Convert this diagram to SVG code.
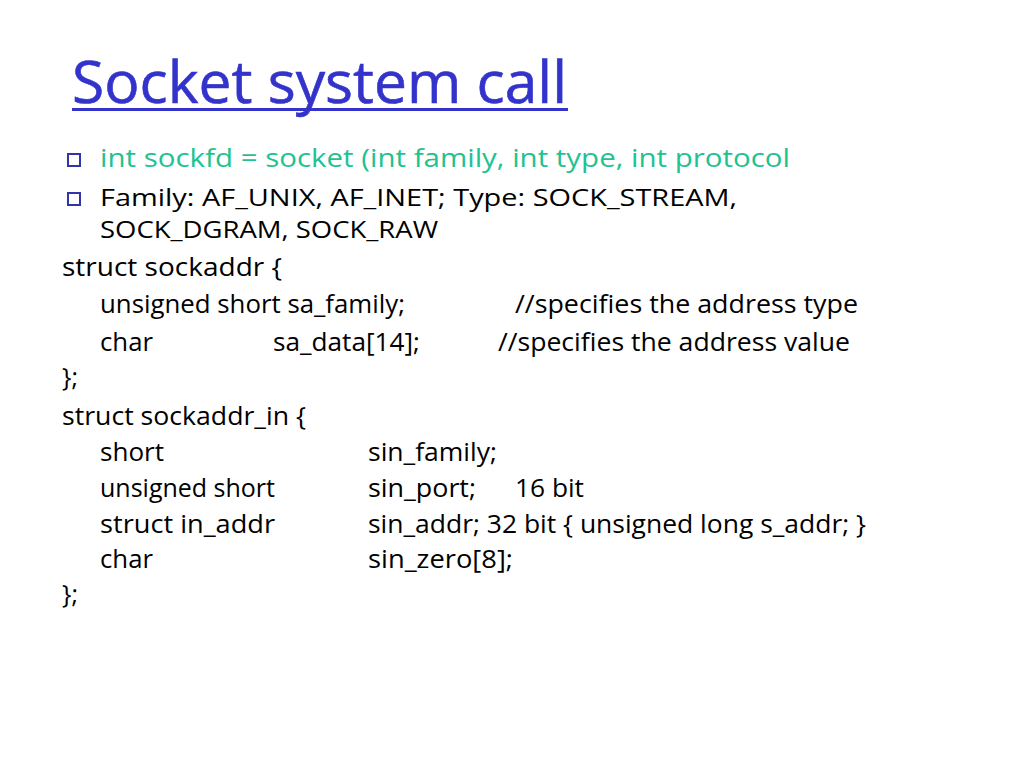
<svg xmlns="http://www.w3.org/2000/svg" width="1024" height="768" viewBox="0 0 1024 768">
<style>
text{font-family:"Open Sans","Noto Sans","DejaVu Sans",sans-serif;fill:#000}
.title{font-size:58px;fill:#3333CC}
.b{font-size:26px}
.s{font-size:24px}
.g{fill:#1FC290}
.c{font-size:25px}
.bul{fill:#fff;stroke:#3333AA;stroke-width:2}
</style>
<rect width="1024" height="768" fill="#fff"/>
<g id="title">
<text class="title" x="72" y="103" textLength="495" lengthAdjust="spacingAndGlyphs" stroke="#3333CC" stroke-width="0.6">Socket system call</text>
<rect x="72" y="108" width="496" height="3" fill="#3333CC"/>
</g>
<g id="bullets">
<rect x="69" y="155" width="12" height="12" fill="#9999BB"/>
<rect class="bul" x="68" y="154" width="12" height="12"/>
<rect x="69" y="194" width="12" height="12" fill="#9999BB"/>
<rect class="bul" x="68" y="193" width="12" height="12"/>
<text class="b g" x="100" y="167" textLength="690" lengthAdjust="spacingAndGlyphs">int sockfd = socket (int family, int type, int protocol</text>
<text class="s" x="100" y="206" textLength="637" lengthAdjust="spacingAndGlyphs">Family: AF_UNIX, AF_INET; Type: SOCK_STREAM,</text>
<text class="s" x="100" y="238" textLength="338" lengthAdjust="spacingAndGlyphs">SOCK_DGRAM, SOCK_RAW</text>
</g>
<g id="sockaddr">
<text class="c" x="62" y="276" textLength="220" lengthAdjust="spacingAndGlyphs">struct  sockaddr {</text>
<text class="c" x="100" y="313" textLength="305" lengthAdjust="spacingAndGlyphs">unsigned short sa_family;</text>
<text class="c" x="515" y="313" textLength="343" lengthAdjust="spacingAndGlyphs">//specifies the address type</text>
<text class="c" x="100" y="351" textLength="53" lengthAdjust="spacingAndGlyphs">char</text>
<text class="c" x="273" y="351" textLength="147" lengthAdjust="spacingAndGlyphs">sa_data[14];</text>
<text class="c" x="498" y="351" textLength="352" lengthAdjust="spacingAndGlyphs">//specifies the address value</text>
<text class="c" x="62" y="386">};</text>
</g>
<g id="sockaddr_in">
<text class="c" x="62" y="425" textLength="244" lengthAdjust="spacingAndGlyphs">struct sockaddr_in {</text>
<text class="c" x="100" y="461" textLength="64" lengthAdjust="spacingAndGlyphs">short</text>
<text class="c" x="368" y="461" textLength="129" lengthAdjust="spacingAndGlyphs">sin_family;</text>
<text class="c" x="100" y="497" textLength="175" lengthAdjust="spacingAndGlyphs">unsigned short</text>
<text class="c" x="368" y="497" textLength="108" lengthAdjust="spacingAndGlyphs">sin_port;</text>
<text class="c" x="515" y="497" textLength="69" lengthAdjust="spacingAndGlyphs">16 bit</text>
<text class="c" x="100" y="533" textLength="175" lengthAdjust="spacingAndGlyphs">struct in_addr</text>
<text class="c" x="368" y="533" textLength="498" lengthAdjust="spacingAndGlyphs">sin_addr; 32 bit { unsigned long s_addr; }</text>
<text class="c" x="100" y="568" textLength="53" lengthAdjust="spacingAndGlyphs">char</text>
<text class="c" x="368" y="568" textLength="145" lengthAdjust="spacingAndGlyphs">sin_zero[8];</text>
<text class="c" x="62" y="603">};</text>
</g>
</svg>
